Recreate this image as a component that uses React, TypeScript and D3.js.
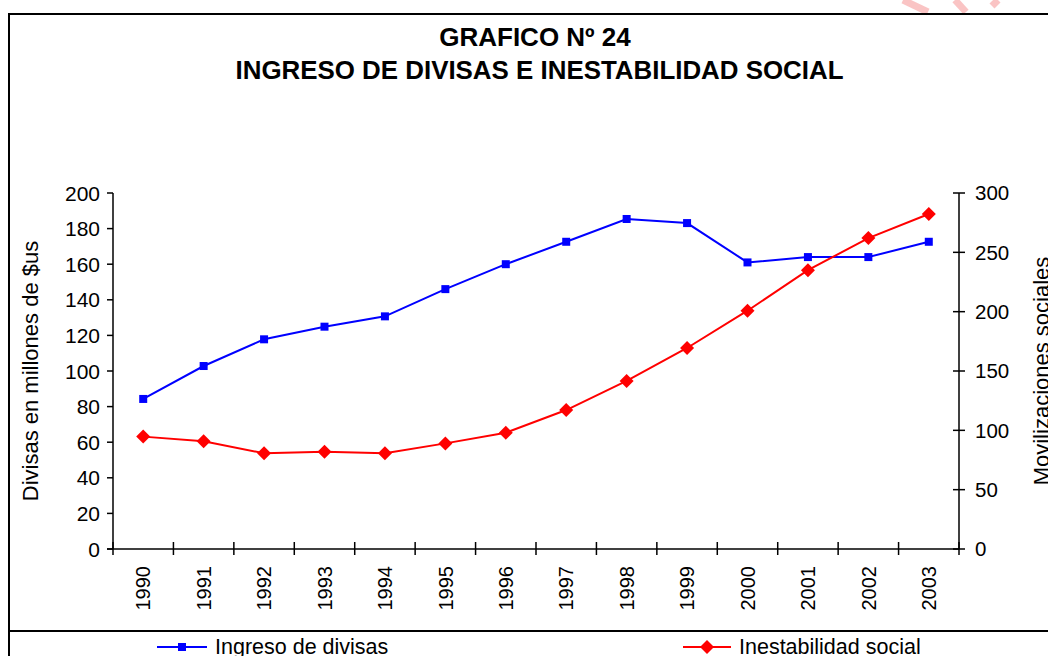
import React from "react";
import * as d3 from "d3";

const years = ["1990","1991","1992","1993","1994","1995","1996","1997","1998","1999","2000","2001","2002","2003"];
const divisas = [84.3, 102.8, 117.8, 124.9, 130.7, 146, 160, 172.6, 185.4, 183.1, 161, 164, 164, 172.6];
const inestabilidad = [94.7, 90.8, 80.6, 82, 80.6, 89, 98, 117.1, 141.6, 169.4, 200.8, 235, 262, 282.3];
const leftTicks = [0, 20, 40, 60, 80, 100, 120, 140, 160, 180, 200];
const rightTicks = [0, 50, 100, 150, 200, 250, 300];
const titleLines = ["GRAFICO Nº 24", "INGRESO DE DIVISAS E INESTABILIDAD SOCIAL"];
const leftLabel = "Divisas en millones de $us";
const rightLabel = "Movilizaciones sociales";
const legendNames = ["Ingreso de divisas", "Inestabilidad social"];

const W = 1048, H = 656;
const X0 = 113, X1 = 959, Y0 = 549, Y1 = 193;
const FONT = "'Liberation Sans', Arial, sans-serif";
const BLUE = "#0000ff", RED = "#ff0000";

export default function App() {
  const x = d3.scaleBand<string>().domain(years).range([X0, X1]);
  const yL = d3.scaleLinear().domain([0, 200]).range([Y0, Y1]);
  const yR = d3.scaleLinear().domain([0, 300]).range([Y0, Y1]);
  const cx = (y: string) => (x(y) as number) + x.bandwidth() / 2;
  const lineL = d3.line<number>().x((_, i) => cx(years[i])).y((d) => yL(d));
  const lineR = d3.line<number>().x((_, i) => cx(years[i])).y((d) => yR(d));
  const diamond = (px: number, py: number, r: number) =>
    `M${px},${py - r}L${px + r},${py}L${px},${py + r}L${px - r},${py}Z`;
  const sq = 8;

  return (
    <svg width={W} height={H} style={{ position: "absolute", left: 0, top: 0, background: "#fff" }} fontFamily={FONT}>
      {/* watermark fragments */}
      <g stroke="#ef3b3b" strokeOpacity={0.3} strokeWidth={7} fill="none">
        <path d="M903,0 L928,12" />
        <path d="M955,0 L966,12" />
        <path d="M998,0 L992,6" />
      </g>
      {/* frame */}
      <path d={`M9,${H} L9,14 L${W},14`} stroke="#000" strokeWidth={2} fill="none" />
      <line x1={9} x2={W} y1={631} y2={631} stroke="#000" strokeWidth={2} />

      {/* titles */}
      <text x={535} y={46} textAnchor="middle" fontWeight="bold" fontSize={26}>{titleLines[0]}</text>
      <text x={539.5} y={79} textAnchor="middle" fontWeight="bold" fontSize={26} textLength={608} lengthAdjust="spacingAndGlyphs">{titleLines[1]}</text>

      {/* left axis */}
      <line x1={X0} x2={X0} y1={Y1} y2={Y0} stroke="#000" strokeWidth={1.5} />
      {leftTicks.map((t) => (
        <g key={"l" + t}>
          <line x1={X0 - 6} x2={X0} y1={yL(t)} y2={yL(t)} stroke="#000" strokeWidth={1.5} />
          <text x={X0 - 13} y={yL(t)} dy="0.36em" textAnchor="end" fontSize={21}>{t}</text>
        </g>
      ))}
      {/* right axis */}
      <line x1={X1} x2={X1} y1={Y1} y2={Y0} stroke="#000" strokeWidth={1.5} />
      {rightTicks.map((t) => (
        <g key={"r" + t}>
          <line x1={X1 - 6} x2={X1 + 6} y1={yR(t)} y2={yR(t)} stroke="#000" strokeWidth={1.5} />
          <text x={X1 + 16} y={yR(t)} dy="0.36em" textAnchor="start" fontSize={20.5}>{t}</text>
        </g>
      ))}
      {/* bottom axis */}
      <line x1={X0 - 6} x2={X1} y1={Y0} y2={Y0} stroke="#000" strokeWidth={1.5} />
      {years.map((yr) => (
        <line key={"t" + yr} x1={x(yr) as number} x2={x(yr) as number} y1={Y0 - 7} y2={Y0 + 6} stroke="#000" strokeWidth={1.5} />
      ))}
      <line x1={X1} x2={X1} y1={Y0 - 7} y2={Y0 + 6} stroke="#000" strokeWidth={1.5} />
      {years.map((yr) => (
        <text key={"y" + yr} transform={`translate(${cx(yr)},566) rotate(-90)`} dy="0.36em" textAnchor="end" fontSize={20}>{yr}</text>
      ))}

      {/* axis titles */}
      <text transform={`translate(30,371) rotate(-90)`} dy="0.36em" textAnchor="middle" fontSize={22}>{leftLabel}</text>
      <text transform={`translate(1041,371) rotate(-90)`} dy="0.36em" textAnchor="middle" fontSize={22}>{rightLabel}</text>

      {/* series */}
      <path d={lineL(divisas) || ""} stroke={BLUE} strokeWidth={2} fill="none" />
      {divisas.map((v, i) => (
        <rect key={"b" + i} x={cx(years[i]) - sq / 2} y={yL(v) - sq / 2} width={sq} height={sq} fill={BLUE} />
      ))}
      <path d={lineR(inestabilidad) || ""} stroke={RED} strokeWidth={2} fill="none" />
      {inestabilidad.map((v, i) => (
        <path key={"d" + i} d={diamond(cx(years[i]), yR(v), 7)} fill={RED} />
      ))}

      {/* legend */}
      <line x1={157} x2={207} y1={647} y2={647} stroke={BLUE} strokeWidth={2} />
      <rect x={182 - sq / 2} y={647 - sq / 2} width={sq} height={sq} fill={BLUE} />
      <text x={215} y={653.5} fontSize={21.5}>{legendNames[0]}</text>
      <line x1={683} x2={731} y1={647} y2={647} stroke={RED} strokeWidth={2} />
      <path d={diamond(707, 647, 7)} fill={RED} />
      <text x={739} y={653.5} fontSize={21.5}>{legendNames[1]}</text>
    </svg>
  );
}
